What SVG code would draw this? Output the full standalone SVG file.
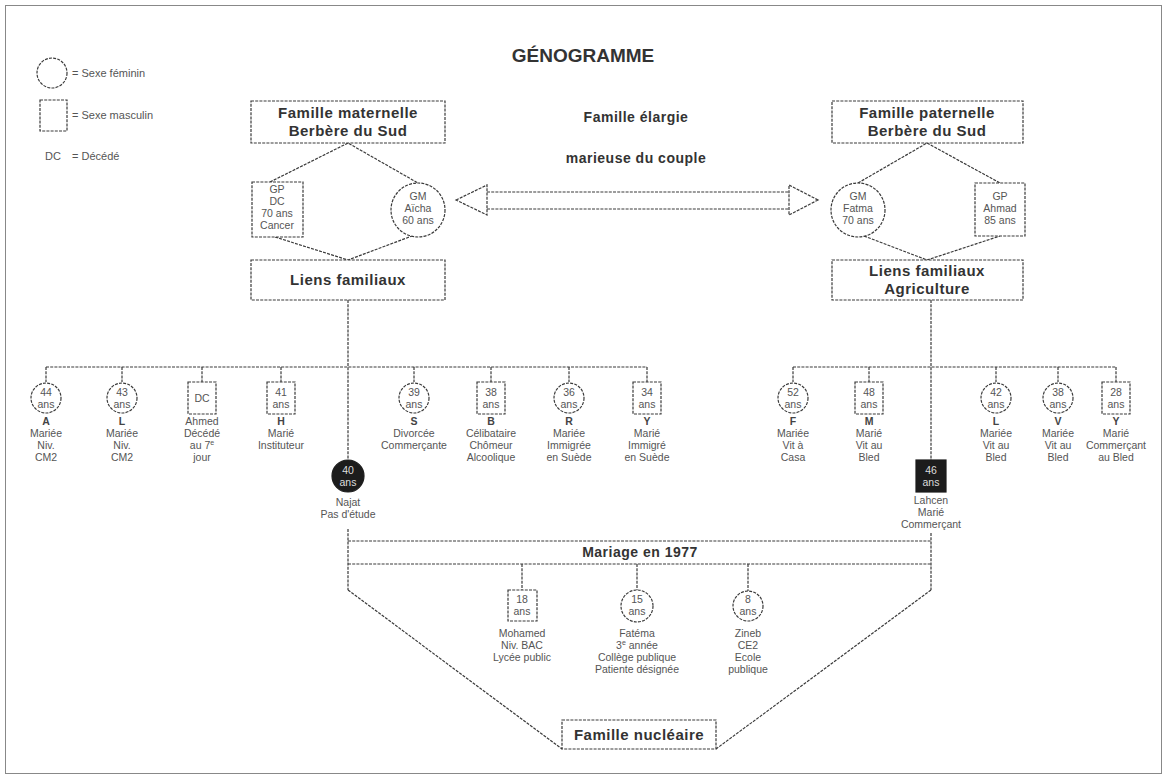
<svg xmlns="http://www.w3.org/2000/svg" width="1167" height="780" viewBox="0 0 1167 780">
<style>
.ln{fill:none;stroke:#3a3a3a;stroke-width:1.2;stroke-dasharray:3 1.2}
.nd{fill:#fff;stroke:#3a3a3a;stroke-width:1.2;stroke-dasharray:3 1.2}
.dk{fill:#1c1c1c;stroke:#1c1c1c;stroke-width:1.2}
.h{font-family:"Liberation Sans",Arial,sans-serif;font-weight:bold;font-size:15px;letter-spacing:0.5px;fill:#333;text-anchor:middle}
.t{font-family:"Liberation Sans",Arial,sans-serif;font-weight:bold;font-size:19px;fill:#333;text-anchor:middle}
.s{font-family:"Liberation Sans",Arial,sans-serif;font-size:10.5px;fill:#555;text-anchor:middle}
.b{font-family:"Liberation Sans",Arial,sans-serif;font-size:10.5px;font-weight:bold;fill:#444;text-anchor:middle}
.w{font-family:"Liberation Sans",Arial,sans-serif;font-size:10.5px;fill:#ddd;text-anchor:middle}
.lg{font-family:"Liberation Sans",Arial,sans-serif;font-size:11px;fill:#555}
</style>
<rect x="0" y="0" width="1167" height="780" fill="#fff"/>
<rect x="5.5" y="5.5" width="1156" height="768" fill="none" stroke="#888" stroke-width="1"/>

<g id="legend">
<circle class="nd" cx="52" cy="73" r="15"/>
<text class="lg" x="72" y="77">= Sexe féminin</text>
<rect class="nd" x="40" y="100" width="27" height="31"/>
<text class="lg" x="72" y="119">= Sexe masculin</text>
<text class="lg" x="45" y="160">DC</text>
<text class="lg" x="72" y="160">= Décédé</text>
</g>

<g id="title"><text class="t" x="583" y="62">GÉNOGRAMME</text></g>

<g id="connectors">
<!-- maternal diamond -->
<polyline class="ln" points="270,182 348,143 418,183"/>
<polyline class="ln" points="275,237 348,260 412,236"/>
<!-- paternal diamond -->
<polyline class="ln" points="858,183 927,143 1000,183"/>
<polyline class="ln" points="864,236 927,260 1000,236"/>
<!-- double arrow -->
<line class="ln" x1="487" y1="192" x2="789" y2="192"/>
<line class="ln" x1="487" y1="209" x2="789" y2="209"/>
<polygon class="nd" points="456,200 487,185 487,215"/>
<polygon class="nd" points="818,200 789,185 789,215"/>
<!-- main verticals -->
<line class="ln" x1="348" y1="300" x2="348" y2="459"/>
<line class="ln" x1="931" y1="300" x2="931" y2="460"/>
<!-- maternal siblings -->
<line class="ln" x1="46" y1="367" x2="647" y2="367"/>
<line class="ln" x1="46" y1="367" x2="46" y2="382"/>
<line class="ln" x1="122" y1="367" x2="122" y2="382"/>
<line class="ln" x1="202" y1="367" x2="202" y2="382"/>
<line class="ln" x1="281" y1="367" x2="281" y2="382"/>
<line class="ln" x1="414" y1="367" x2="414" y2="382"/>
<line class="ln" x1="491" y1="367" x2="491" y2="382"/>
<line class="ln" x1="569" y1="367" x2="569" y2="382"/>
<line class="ln" x1="647" y1="367" x2="647" y2="382"/>
<!-- paternal siblings -->
<line class="ln" x1="793" y1="367" x2="1116" y2="367"/>
<line class="ln" x1="793" y1="367" x2="793" y2="382"/>
<line class="ln" x1="869" y1="367" x2="869" y2="382"/>
<line class="ln" x1="996" y1="367" x2="996" y2="382"/>
<line class="ln" x1="1058" y1="367" x2="1058" y2="382"/>
<line class="ln" x1="1116" y1="367" x2="1116" y2="382"/>
<!-- marriage -->
<line class="ln" x1="348" y1="529" x2="348" y2="590"/>
<line class="ln" x1="931" y1="533" x2="931" y2="590"/>
<line class="ln" x1="348" y1="541" x2="931" y2="541"/>
<line class="ln" x1="348" y1="564" x2="931" y2="564"/>
<polyline class="ln" points="348,590 562,749"/>
<polyline class="ln" points="931,590 716,749"/>
<!-- children -->
<line class="ln" x1="522" y1="564" x2="522" y2="590"/>
<line class="ln" x1="637" y1="564" x2="637" y2="590"/>
<line class="ln" x1="748" y1="564" x2="748" y2="591"/>
</g>

<g id="famille-maternelle">
<rect class="nd" x="251" y="101" width="194" height="42"/>
<text class="h" x="348" y="118">Famille maternelle</text>
<text class="h" x="348" y="136">Berbère du Sud</text>
</g>
<g id="gp-maternel">
<rect class="nd" x="252" y="182" width="51" height="55"/>
<text class="s" x="277" y="193">GP</text>
<text class="s" x="277" y="205">DC</text>
<text class="s" x="277" y="217">70 ans</text>
<text class="s" x="277" y="229">Cancer</text>
</g>
<g id="gm-maternelle">
<circle class="nd" cx="418" cy="210" r="27"/>
<text class="s" x="418" y="200">GM</text>
<text class="s" x="418" y="212">Aïcha</text>
<text class="s" x="418" y="224">60 ans</text>
</g>
<g id="liens-maternels">
<rect class="nd" x="251" y="260" width="194" height="40"/>
<text class="h" x="348" y="285">Liens familiaux</text>
</g>

<g id="famille-elargie">
<text class="h" x="636" y="122" style="font-size:14px">Famille élargie</text>
<text class="h" x="636" y="163" style="font-size:14px">marieuse du couple</text>
</g>

<g id="famille-paternelle">
<rect class="nd" x="832" y="101" width="191" height="42"/>
<text class="h" x="927" y="118">Famille paternelle</text>
<text class="h" x="927" y="136">Berbère du Sud</text>
</g>
<g id="gm-paternelle">
<circle class="nd" cx="858" cy="210" r="27"/>
<text class="s" x="858" y="200">GM</text>
<text class="s" x="858" y="212">Fatma</text>
<text class="s" x="858" y="224">70 ans</text>
</g>
<g id="gp-paternel">
<rect class="nd" x="975" y="183" width="50" height="53"/>
<text class="s" x="1000" y="200">GP</text>
<text class="s" x="1000" y="212">Ahmad</text>
<text class="s" x="1000" y="224">85 ans</text>
</g>
<g id="liens-paternels">
<rect class="nd" x="832" y="260" width="191" height="40"/>
<text class="h" x="927" y="276">Liens familiaux</text>
<text class="h" x="927" y="294">Agriculture</text>
</g>

<!-- maternal siblings -->
<g id="sib-A">
<circle class="nd" cx="46" cy="398" r="15"/>
<text class="s" x="46" y="396">44</text><text class="s" x="46" y="408">ans</text>
<text class="b" x="46" y="425">A</text>
<text class="s" x="46" y="437">Mariée</text><text class="s" x="46" y="449">Niv.</text><text class="s" x="46" y="461">CM2</text>
</g>
<g id="sib-L">
<circle class="nd" cx="122" cy="398" r="15"/>
<text class="s" x="122" y="396">43</text><text class="s" x="122" y="408">ans</text>
<text class="b" x="122" y="425">L</text>
<text class="s" x="122" y="437">Mariée</text><text class="s" x="122" y="449">Niv.</text><text class="s" x="122" y="461">CM2</text>
</g>
<g id="sib-Ahmed">
<rect class="nd" x="188" y="382" width="28" height="32"/>
<text class="s" x="202" y="402">DC</text>
<text class="s" x="202" y="425">Ahmed</text>
<text class="s" x="202" y="437">Décédé</text>
<text class="s" x="202" y="449">au 7<tspan font-size="7" dy="-4">e</tspan></text>
<text class="s" x="202" y="461">jour</text>
</g>
<g id="sib-H">
<rect class="nd" x="267" y="382" width="28" height="32"/>
<text class="s" x="281" y="396">41</text><text class="s" x="281" y="408">ans</text>
<text class="b" x="281" y="425">H</text>
<text class="s" x="281" y="437">Marié</text><text class="s" x="281" y="449">Instituteur</text>
</g>
<g id="sib-S">
<circle class="nd" cx="414" cy="398" r="15"/>
<text class="s" x="414" y="396">39</text><text class="s" x="414" y="408">ans</text>
<text class="b" x="414" y="425">S</text>
<text class="s" x="414" y="437">Divorcée</text><text class="s" x="414" y="449">Commerçante</text>
</g>
<g id="sib-B">
<rect class="nd" x="477" y="382" width="28" height="32"/>
<text class="s" x="491" y="396">38</text><text class="s" x="491" y="408">ans</text>
<text class="b" x="491" y="425">B</text>
<text class="s" x="491" y="437">Célibataire</text><text class="s" x="491" y="449">Chômeur</text><text class="s" x="491" y="461">Alcoolique</text>
</g>
<g id="sib-R">
<circle class="nd" cx="569" cy="398" r="15"/>
<text class="s" x="569" y="396">36</text><text class="s" x="569" y="408">ans</text>
<text class="b" x="569" y="425">R</text>
<text class="s" x="569" y="437">Mariée</text><text class="s" x="569" y="449">Immigrée</text><text class="s" x="569" y="461">en Suède</text>
</g>
<g id="sib-Y1">
<rect class="nd" x="633" y="382" width="28" height="32"/>
<text class="s" x="647" y="396">34</text><text class="s" x="647" y="408">ans</text>
<text class="b" x="647" y="425">Y</text>
<text class="s" x="647" y="437">Marié</text><text class="s" x="647" y="449">Immigré</text><text class="s" x="647" y="461">en Suède</text>
</g>

<!-- paternal siblings -->
<g id="sib-F">
<circle class="nd" cx="793" cy="398" r="15"/>
<text class="s" x="793" y="396">52</text><text class="s" x="793" y="408">ans</text>
<text class="b" x="793" y="425">F</text>
<text class="s" x="793" y="437">Mariée</text><text class="s" x="793" y="449">Vit à</text><text class="s" x="793" y="461">Casa</text>
</g>
<g id="sib-M">
<rect class="nd" x="855" y="382" width="28" height="32"/>
<text class="s" x="869" y="396">48</text><text class="s" x="869" y="408">ans</text>
<text class="b" x="869" y="425">M</text>
<text class="s" x="869" y="437">Marié</text><text class="s" x="869" y="449">Vit au</text><text class="s" x="869" y="461">Bled</text>
</g>
<g id="sib-L2">
<circle class="nd" cx="996" cy="398" r="15"/>
<text class="s" x="996" y="396">42</text><text class="s" x="996" y="408">ans</text>
<text class="b" x="996" y="425">L</text>
<text class="s" x="996" y="437">Mariée</text><text class="s" x="996" y="449">Vit au</text><text class="s" x="996" y="461">Bled</text>
</g>
<g id="sib-V">
<circle class="nd" cx="1058" cy="398" r="15"/>
<text class="s" x="1058" y="396">38</text><text class="s" x="1058" y="408">ans</text>
<text class="b" x="1058" y="425">V</text>
<text class="s" x="1058" y="437">Mariée</text><text class="s" x="1058" y="449">Vit au</text><text class="s" x="1058" y="461">Bled</text>
</g>
<g id="sib-Y2">
<rect class="nd" x="1102" y="382" width="28" height="32"/>
<text class="s" x="1116" y="396">28</text><text class="s" x="1116" y="408">ans</text>
<text class="b" x="1116" y="425">Y</text>
<text class="s" x="1116" y="437">Marié</text><text class="s" x="1116" y="449">Commerçant</text><text class="s" x="1116" y="461">au Bled</text>
</g>

<g id="najat">
<circle class="dk" cx="348" cy="476" r="16"/>
<text class="w" x="348" y="474">40</text><text class="w" x="348" y="486">ans</text>
<text class="s" x="348" y="506">Najat</text>
<text class="s" x="348" y="518">Pas d'étude</text>
</g>
<g id="lahcen">
<rect class="dk" x="916" y="460" width="30" height="32"/>
<text class="w" x="931" y="474">46</text><text class="w" x="931" y="486">ans</text>
<text class="s" x="931" y="504">Lahcen</text>
<text class="s" x="931" y="516">Marié</text>
<text class="s" x="931" y="528">Commerçant</text>
</g>

<g id="mariage">
<text class="h" x="640" y="557" style="font-size:14px">Mariage en 1977</text>
</g>

<g id="mohamed">
<rect class="nd" x="508" y="590" width="29" height="31"/>
<text class="s" x="522" y="603">18</text><text class="s" x="522" y="615">ans</text>
<text class="s" x="522" y="637">Mohamed</text>
<text class="s" x="522" y="649">Niv. BAC</text>
<text class="s" x="522" y="661">Lycée public</text>
</g>
<g id="fatema">
<circle class="nd" cx="637" cy="606" r="16"/>
<text class="s" x="637" y="603">15</text><text class="s" x="637" y="615">ans</text>
<text class="s" x="637" y="637">Fatéma</text>
<text class="s" x="637" y="649">3<tspan font-size="7" dy="-4">e</tspan><tspan dy="4"> année</tspan></text>
<text class="s" x="637" y="661">Collège publique</text>
<text class="s" x="637" y="673">Patiente désignée</text>
</g>
<g id="zineb">
<circle class="nd" cx="748" cy="606" r="15"/>
<text class="s" x="748" y="603">8</text><text class="s" x="748" y="615">ans</text>
<text class="s" x="748" y="637">Zineb</text>
<text class="s" x="748" y="649">CE2</text>
<text class="s" x="748" y="661">Ecole</text>
<text class="s" x="748" y="673">publique</text>
</g>

<g id="famille-nucleaire">
<rect class="nd" x="562" y="720" width="154" height="29"/>
<text class="h" x="639" y="740">Famille nucléaire</text>
</g>
</svg>
